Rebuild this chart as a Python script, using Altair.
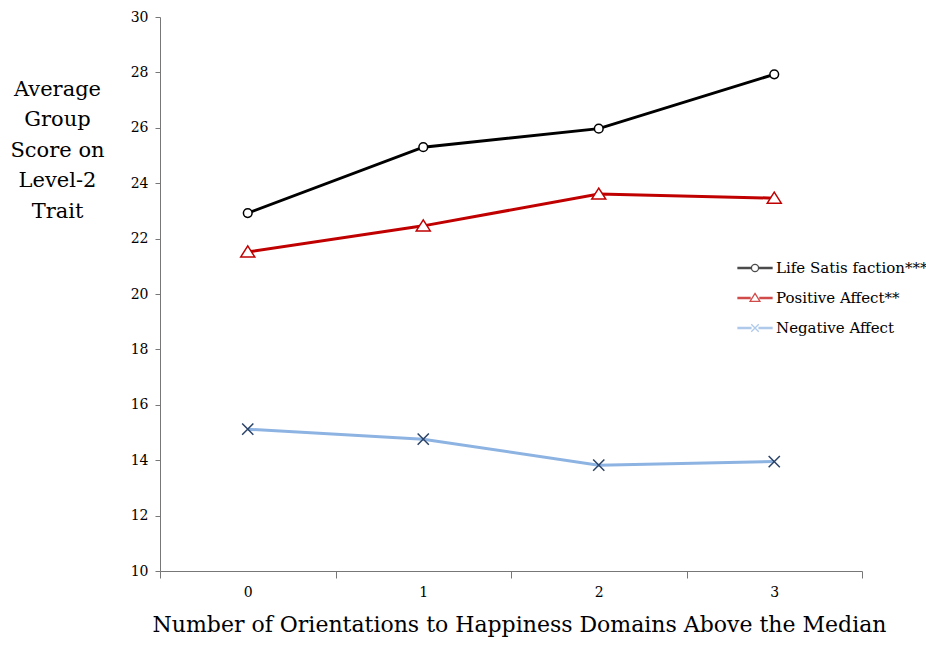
import altair as alt
import pandas as pd

# Categories on the x axis and the three group-mean series
categories = ["0", "1", "2", "3"]
series_names = ["Life Satis faction***", "Positive Affect**", "Negative Affect"]
life_satisfaction = [22.92, 25.30, 25.97, 27.93]
positive_affect = [21.52, 22.46, 23.61, 23.46]
negative_affect = [15.12, 14.76, 13.82, 13.95]
y_ticks = [10, 12, 14, 16, 18, 20, 22, 24, 26, 28, 30]

y_title = ["Average", "Group", "Score on", "Level-2", "Trait"]
x_title = "Number of Orientations to Happiness Domains Above the Median"

line_colors = ["#000000", "#c00000", "#8db3e2"]
marker_colors = ["#000000", "#c00000", "#2b4368"]

# Marker glyphs (unit square paths): open circle, open triangle, x
marker_paths = [
    "M0.62,0A0.62,0.62 0 1 1 -0.62,0A0.62,0.62 0 1 1 0.62,0Z",
    "M0,-0.85L1,0.72L-1,0.72Z",
    "M-0.8,-0.8L0.8,0.8M0.8,-0.8L-0.8,0.8",
]
# Legend glyphs: a short thick line with the marker in its middle
seg_l = "M-1,-0.04H-0.24V0.04H-1Z"
seg_r = "M0.24,-0.04H1V0.04H0.24Z"
legend_paths = [
    seg_l.replace("-0.24", "-0.21") + seg_r.replace("0.24", "0.21")
    + "M0.21,0A0.21,0.21 0 1 1 -0.21,0A0.21,0.21 0 1 1 0.21,0Z",
    seg_l.replace("-0.24", "-0.29") + seg_r.replace("0.24", "0.29")
    + "M0,-0.27L0.29,0.2L-0.29,0.2Z",
    seg_l + seg_r + "M-0.22,-0.22L0.22,0.22M0.22,-0.22L-0.22,0.22",
]

rows = []
for name, vals in zip(series_names, [life_satisfaction, positive_affect, negative_affect]):
    for c, v in zip(categories, vals):
        rows.append({"series": name, "x": c, "value": v})
df = pd.DataFrame(rows)

FONT = "DejaVu Serif"

x_enc = alt.X(
    "x:O",
    sort=categories,
    scale=alt.Scale(type="band", paddingInner=0, paddingOuter=0),
    axis=alt.Axis(
        title=x_title,
        labelAngle=0,
        tickBand="extent",
        tickSize=7,
        labelPadding=7,
        labelFont=FONT,
        labelFontSize=14,
        labelColor="black",
        titleFont=FONT,
        titleFontSize=22,
        titleFontWeight="normal",
        titleColor="black",
        titleBaseline="alphabetic",
        titleX=359,
        titleY=60,
        domainColor="#777777",
        tickColor="#777777",
    ),
)
y_enc = alt.Y(
    "value:Q",
    scale=alt.Scale(domain=[10, 30], nice=False, zero=False),
    axis=alt.Axis(
        values=y_ticks,
        grid=False,
        title=y_title,
        titleAngle=0,
        titleAlign="center",
        titleBaseline="alphabetic",
        titleX=-103,
        titleY=78,
        titleLineHeight=30.5,
        titleFont=FONT,
        titleFontSize=21,
        titleFontWeight="normal",
        titleColor="black",
        tickSize=5,
        labelPadding=7,
        labelFont=FONT,
        labelFontSize=14,
        labelColor="black",
        domainColor="#777777",
        tickColor="#777777",
    ),
)

base = alt.Chart(df)

lines = base.mark_line(strokeWidth=3).encode(
    x=x_enc,
    y=y_enc,
    color=alt.Color(
        "series:N",
        scale=alt.Scale(domain=series_names, range=line_colors),
        legend=None,
    ),
)

points = base.mark_point(
    filled=False, fill="white", fillOpacity=1, opacity=1, strokeWidth=1.5, size=196
).encode(
    x=x_enc,
    y=y_enc,
    shape=alt.Shape(
        "series:N",
        scale=alt.Scale(domain=series_names, range=marker_paths),
        legend=None,
    ),
    stroke=alt.Stroke(
        "series:N",
        scale=alt.Scale(domain=series_names, range=marker_colors),
        legend=None,
    ),
)

legend_props = dict(
    title=None,
    orient="none",
    legendX=577,
    legendY=238,
    labelFont=FONT,
    labelFontSize=15,
    labelColor="black",
    labelOffset=3,
    clipHeight=26,
    rowPadding=4,
    symbolSize=1156,
    symbolStrokeWidth=1.3,
    symbolFillColor="white",
)

legend_layer = (
    base.transform_filter("datum.value < 0")
    .transform_calculate(entry="datum.series")
    .mark_point(filled=False, strokeWidth=1.3, size=1156)
    .encode(
        x=x_enc,
        y=y_enc,
        shape=alt.Shape(
            "entry:N",
            scale=alt.Scale(domain=series_names, range=legend_paths),
            legend=alt.Legend(**legend_props),
        ),
        stroke=alt.Stroke(
            "entry:N",
            scale=alt.Scale(domain=series_names, range=line_colors),
            legend=alt.Legend(**legend_props),
        ),
    )
)

chart = (
    alt.layer(lines, points, legend_layer)
    .resolve_scale(shape="independent", stroke="independent")
    .properties(
        width=702,
        height=554,
        autosize=alt.AutoSizeParams(type="none"),
        padding={"left": 160, "top": 17, "right": 64, "bottom": 80},
        background="white",
    )
    .configure_view(stroke=None)
)

chart.save("out.html", embed_options={"renderer": "svg", "actions": False})
